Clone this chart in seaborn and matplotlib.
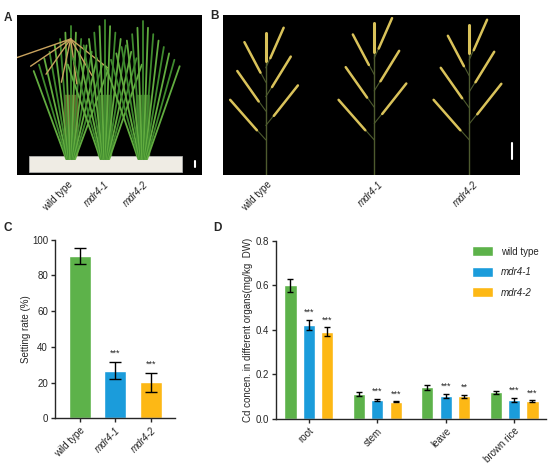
import numpy as np
import pandas as pd
import matplotlib
matplotlib.use("Agg")
import matplotlib.pyplot as plt
import seaborn as sns

# ---- data ----
lines = ["wild type", "mdr4-1", "mdr4-2"]
setting_rate = [90.8, 26.6, 20.1]
setting_sd = [4.3, 4.7, 5.1]
setting_sig = ["", "***", "***"]

organs = ["root", "stem", "leave", "brown rice"]
cd_wt = [0.600, 0.112, 0.142, 0.119]
cd_wt_sd = [0.031, 0.010, 0.010, 0.007]
cd_m1 = [0.423, 0.086, 0.104, 0.085]
cd_m1_sd = [0.023, 0.004, 0.009, 0.010]
cd_m2 = [0.392, 0.077, 0.101, 0.080]
cd_m2_sd = [0.020, 0.003, 0.007, 0.005]
sig_m1 = ["***", "***", "***", "***"]
sig_m2 = ["***", "***", "**", "***"]

colors = ["#5DB24A", "#1B9CDB", "#FDB815"]

sns.set_style("ticks")
plt.rcParams["font.family"] = ["Liberation Sans", "DejaVu Sans"]
plt.rcParams["axes.linewidth"] = 1.0

fig = plt.figure(figsize=(5.5, 4.67), dpi=100)

def tick_italic(ax):
    for t in ax.get_xticklabels():
        if t.get_text().startswith("mdr"):
            t.set_fontstyle("italic")

# ---- A: plant photo (schematic) ----
axA = fig.add_axes([0.031, 0.625, 0.336, 0.343])
axA.set_facecolor("black")
axA.set_xlim(0, 1)
axA.set_ylim(0, 1)
for xc, h, ripe in [(0.29, 0.93, True), (0.475, 0.97, False), (0.68, 0.96, False)]:
    for k, ang in enumerate(np.linspace(-0.2, 0.2, 15)):
        top = h - abs(ang) * 1.4
        axA.plot([xc + ang * 0.12, xc + ang], [0.1, top],
                 color="#3f8a2e" if k % 2 else "#62ad40", lw=1.3, solid_capstyle="round")
    axA.add_patch(plt.Rectangle((xc - 0.035, 0.1), 0.07, 0.4,
                                color="#6b5a2a" if ripe else "#3d6e26"))
    if ripe:
        for ang in np.linspace(-0.3, 0.2, 7):
            axA.plot([xc, xc + ang], [0.85, 0.55 + abs(ang) * 0.6], color="#c9a35e", lw=1.0)
axA.add_patch(plt.Rectangle((0.065, 0.02), 0.825, 0.1, facecolor="#efece4",
                            edgecolor="#bbb", lw=0.5))
axA.plot([0.965, 0.965], [0.05, 0.09], color="white", lw=1.5)
axA.set_xticks([0.31, 0.51, 0.72])
axA.set_xticklabels(lines, rotation=45, ha="right", fontsize=7)
tick_italic(axA)
axA.tick_params(length=0, pad=3)
axA.set_yticks([])
for s in axA.spines.values():
    s.set_visible(False)

# ---- B: panicle photo (schematic) ----
axB = fig.add_axes([0.405, 0.625, 0.54, 0.343])
axB.set_facecolor("black")
axB.set_xlim(0, 1)
axB.set_ylim(0, 1)
for xc, top in [(0.145, 0.89), (0.51, 0.95), (0.83, 0.94)]:
    axB.plot([xc, xc], [0.0, top], color="#4d5a2e", lw=1.0)
    axB.plot([xc, xc], [top - 0.18, top], color="#d9c25a", lw=2.2)
    for j, yb in enumerate(np.linspace(0.22, top - 0.22, 6)):
        side = -1 if j % 2 == 0 else 1
        ln = 0.06 + 0.06 * (5 - j) / 5
        x2 = xc + side * ln
        y2 = yb + 0.25
        axB.plot([xc, x2], [yb, y2], color="#4d5a2e", lw=0.8)
        axB.plot([xc + side * ln * 0.25, x2], [yb + 0.06, y2], color="#d9c25a", lw=1.8)
axB.plot([0.975, 0.975], [0.1, 0.2], color="white", lw=1.5)
axB.set_xticks([0.17, 0.545, 0.865])
axB.set_xticklabels(lines, rotation=45, ha="right", fontsize=7)
tick_italic(axB)
axB.tick_params(length=0, pad=3)
axB.set_yticks([])
for s in axB.spines.values():
    s.set_visible(False)

# ---- C: setting rate ----
axC = fig.add_axes([0.1, 0.104, 0.218, 0.383])
dfC = pd.DataFrame({"line": lines, "rate": setting_rate})
sns.barplot(data=dfC, x="line", y="rate", hue="line", palette=colors,
            width=0.62, errorbar=None, legend=False, ax=axC, saturation=1)
axC.errorbar(range(len(lines)), setting_rate, yerr=setting_sd, fmt="none",
             ecolor="black", elinewidth=1.0, capsize=4, capthick=1.0)
for i, s in enumerate(setting_sig):
    if s:
        axC.text(i, setting_rate[i] + setting_sd[i] + 2.5, s, ha="center",
                 va="bottom", fontsize=6.5)
axC.set_xlim(-0.7, 2.68)
axC.set_ylim(0, 100)
axC.set_yticks([0, 20, 40, 60, 80, 100])
axC.set_xlabel("")
axC.set_ylabel("Setting rate (%)", fontsize=7, labelpad=1)
axC.set_xticks(range(len(lines)))
axC.set_xticklabels(lines, rotation=45, ha="right", rotation_mode="anchor", fontsize=7)
tick_italic(axC)
axC.tick_params(axis="both", labelsize=7, length=3, width=1.0, pad=2)
sns.despine(ax=axC)

# ---- D: Cd concentration ----
axD = fig.add_axes([0.502, 0.103, 0.491, 0.381])
dfD = pd.DataFrame({
    "organ": organs * 3,
    "line": [lines[0]] * 4 + [lines[1]] * 4 + [lines[2]] * 4,
    "cd": cd_wt + cd_m1 + cd_m2,
})
sns.barplot(data=dfD, x="organ", y="cd", hue="line", palette=colors,
            width=0.81, gap=0.345, errorbar=None, ax=axD, saturation=1)
offs = [-0.27, 0.0, 0.27]
for k, (vals, sds) in enumerate([(cd_wt, cd_wt_sd), (cd_m1, cd_m1_sd), (cd_m2, cd_m2_sd)]):
    xs = np.arange(len(organs)) + offs[k]
    axD.errorbar(xs, vals, yerr=sds, fmt="none", ecolor="black",
                 elinewidth=1.0, capsize=2.5, capthick=1.0)
for k, (vals, sds, sig) in enumerate([(cd_m1, cd_m1_sd, sig_m1), (cd_m2, cd_m2_sd, sig_m2)]):
    for i, s in enumerate(sig):
        axD.text(i + offs[k + 1], vals[i] + sds[i] + 0.012, s, ha="center",
                 va="bottom", fontsize=6.5)
axD.set_xlim(-0.48, 3.47)
axD.set_ylim(0, 0.8)
axD.set_yticks([0.0, 0.2, 0.4, 0.6, 0.8])
axD.set_yticklabels(["0.0", "0.2", "0.4", "0.6", "0.8"])
axD.set_xlabel("")
axD.set_ylabel("Cd concen. in different organs(mg/kg  DW)", fontsize=7, labelpad=2)
axD.set_xticks(range(len(organs)))
axD.set_xticklabels(organs, rotation=45, ha="right", rotation_mode="anchor", fontsize=7)
axD.tick_params(axis="both", labelsize=7, length=3, width=1.0, pad=2)
leg = axD.legend(loc="upper left", bbox_to_anchor=(0.726, 0.97), frameon=False,
                 fontsize=7, handlelength=2.1, handleheight=1.2,
                 labelspacing=1.05, handletextpad=0.9, borderpad=0, borderaxespad=0)
for t in leg.get_texts():
    if t.get_text().startswith("mdr"):
        t.set_fontstyle("italic")
sns.despine(ax=axD)

# ---- panel letters ----
for lab, x, y in [("A", 0.006, 0.975), ("B", 0.382, 0.978), ("C", 0.006, 0.525), ("D", 0.387, 0.525)]:
    fig.text(x, y, lab, fontsize=8.5, fontweight="bold", va="top")

fig.savefig("out.png", dpi=100)
